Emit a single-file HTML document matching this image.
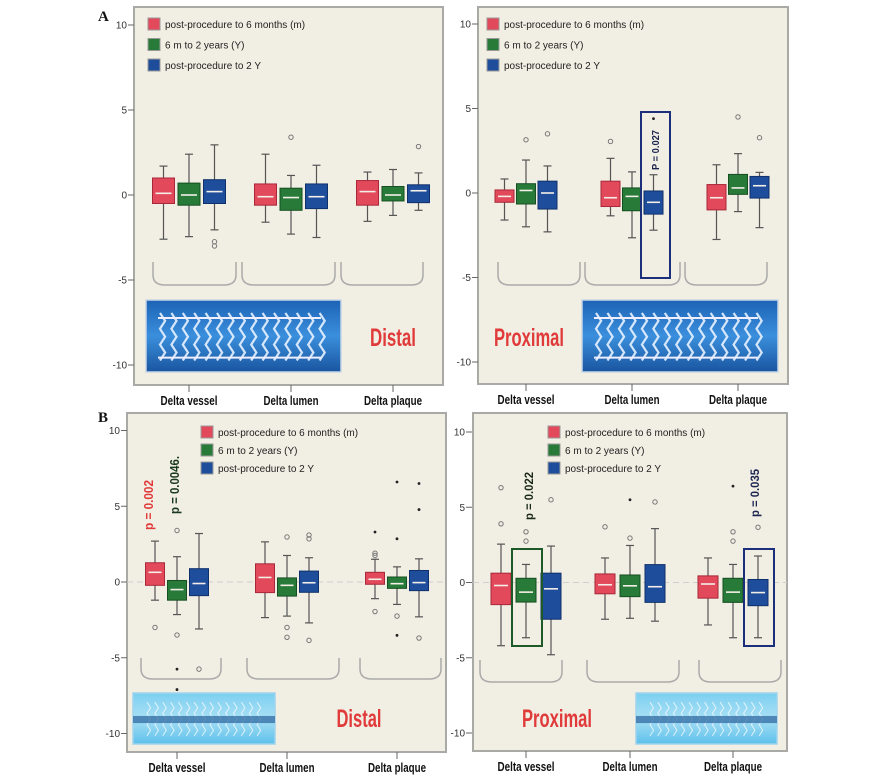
<!DOCTYPE html>
<html><head><meta charset="utf-8">
<style>
html,body{margin:0;padding:0;background:#fff;}
svg{display:block;font-family:"Liberation Sans",sans-serif;}
.cat{font-family:"Liberation Sans Narrow","Liberation Sans",sans-serif;font-weight:bold;font-size:13px;fill:#111;}
.tk{font-size:10px;fill:#333;}
.lg{font-size:10px;fill:#222;}
.big{font-family:"Liberation Sans Narrow","Liberation Sans",sans-serif;font-weight:bold;font-size:25px;fill:#e03a3a;}
</style></head>
<body>
<svg id="fig" width="886" height="778" viewBox="0 0 886 778" xmlns="http://www.w3.org/2000/svg">
<defs>
<linearGradient id="gA" x1="0" y1="0" x2="0" y2="1"><stop offset="0" stop-color="#1d63b5"/><stop offset="0.5" stop-color="#3a8fdc"/><stop offset="1" stop-color="#1a55a0"/></linearGradient>
<linearGradient id="gB" x1="0" y1="0" x2="0" y2="1"><stop offset="0" stop-color="#7ccff0"/><stop offset="0.5" stop-color="#a9e0f5"/><stop offset="1" stop-color="#5cc0ea"/></linearGradient>
</defs>
</svg>
<script>
// ---- data: five-number summaries [min, q1, median, q3, max] per category (vessel, lumen, plaque)
const categories = ["Delta vessel","Delta lumen","Delta plaque"];
const seriesNames = ["post-procedure to 6 months (m)","6 m to 2 years (Y)","post-procedure to 2 Y"];
const yTicks = [10,5,0,-5,-10];
const yTickLabels = ["10","5","0","-5","-10"];

const aDistRed   = [[-2.6,-0.5,0.1,1.0,1.7],[-1.6,-0.6,-0.1,0.65,2.4],[-1.55,-0.6,0.2,0.85,1.35]];
const aDistGreen = [[-2.45,-0.6,0,0.7,2.4],[-2.3,-0.9,-0.15,0.4,1.15],[-1.2,-0.35,0,0.5,1.5]];
const aDistBlue  = [[-2.05,-0.5,0.2,0.9,2.95],[-2.5,-0.8,-0.1,0.65,1.75],[-0.9,-0.45,0.25,0.6,1.3]];
const aDistOut   = [[[],[],[-2.75,-3.0]],[[],[3.4],[]],[[],[],[2.85]]];
const aDistDots  = [[[],[],[]],[[],[],[]],[[],[],[]]];

const aProxRed   = [[-1.6,-0.55,-0.2,0.18,0.83],[-1.35,-0.8,-0.28,0.7,2.05],[-2.75,-1.0,-0.28,0.5,1.67]];
const aProxGreen = [[-2.0,-0.65,0.15,0.55,1.95],[-2.65,-1.05,-0.2,0.3,1.25],[-1.1,-0.08,0.3,1.1,2.33]];
const aProxBlue  = [[-2.3,-0.95,0,0.7,1.6],[-2.2,-1.25,-0.55,0.12,1.08],[-2.05,-0.3,0.43,0.98,1.22]];
const aProxOut   = [[[],[3.15],[3.5]],[[3.05],[],[]],[[],[4.5],[3.27]]];
const aProxDots  = [[[],[],[]],[[],[],[4.4]],[[],[],[]]];

const bDistRed   = [[-1.2,-0.22,0.64,1.27,2.7],[-2.35,-0.7,0.3,1.2,2.65],[-1.1,-0.15,0.18,0.64,1.5]];
const bDistGreen = [[-2.15,-1.2,-0.5,0.1,1.67],[-2.25,-0.93,-0.22,0.27,1.75],[-1.48,-0.42,-0.11,0.33,1.0]];
const bDistBlue  = [[-3.1,-0.9,-0.1,0.88,3.2],[-2.7,-0.68,-0.05,0.72,1.6],[-2.3,-0.57,-0.04,0.76,1.53]];
const bDistOut   = [[[-3.0],[3.4,-3.5],[-5.75]],[[],[2.97,-3.0,-3.65],[3.1,2.85,-3.85]],[[1.9,1.75,-1.95],[-2.25],[-3.7]]];
const bDistDots  = [[[],[-5.75,-7.1],[]],[[],[],[]],[[3.3],[6.6,2.85,-3.52],[6.5,4.78]]];

const bProxRed   = [[-4.2,-1.47,-0.2,0.62,2.55],[-2.44,-0.75,-0.15,0.57,1.63],[-2.82,-1.04,-0.1,0.44,1.63]];
const bProxGreen = [[-3.67,-1.3,-0.64,0.28,1.2],[-2.38,-0.94,-0.22,0.5,2.46],[-3.67,-1.32,-0.64,0.28,1.2]];
const bProxBlue  = [[-4.8,-2.44,-0.42,0.62,2.42],[-2.57,-1.32,-0.28,1.19,3.58],[-3.67,-1.54,-0.67,0.2,1.76]];
const bProxOut   = [[[6.3,3.9],[3.37,2.75],[5.5]],[[3.7],[2.95],[5.35]],[[],[3.37,2.75],[3.67]]];
const bProxDots  = [[[],[],[]],[[],[5.5],[]],[[],[6.4],[]]];

// ---- rendering
const svg = document.getElementById('fig');
const NS = "http://www.w3.org/2000/svg";
const COLORS = ["#e2495b","#277a38","#1e4d9b"];
const EDGE = ["#a8283a","#164f22","#10306b"];
const CAT_W = [57,55,58];
function mk(tag, attrs, parent){
  const e = document.createElementNS(NS, tag);
  for (const k in attrs) e.setAttribute(k, attrs[k]);
  (parent||svg).appendChild(e);
  return e;
}
function stent(g, x, y, w, h, light){
  const r = mk('rect',{x:x,y:y,width:w,height:h,fill:light?'url(#gB)':'url(#gA)',stroke:light?'#9fd3ee':'#c8d6e6','stroke-width':1.5},g);
  
  
  const n = 15, step = (w-24)/n;
  for (let i=0;i<n;i++){
    const cx = x+14+i*step;
    let pts = [];
    for (let k=0;k<=6;k++){ pts.push((cx+(k%2?step*0.45:0))+','+(y+h*0.18+k*h*0.11)); }
    const p = mk('polyline',{points:pts.join(' '),fill:'none',stroke:light?'#f4fbff':'#e8f2ff','stroke-width':light?1:2.2,'stroke-opacity':light?0.8:0.9},g);
    
    
  }
  if (light){
    const b = mk('rect',{x:x,y:y+h*0.45,width:w,height:h*0.14,fill:'#2f6aa3','fill-opacity':0.75},g);
    
    
  } else {
    const l1 = mk('line',{x1:x+12,y1:y+h*0.25,x2:x+w-20,y2:y+h*0.25,stroke:'#eef',"stroke-width":2},g);
    
    
    const l2 = mk('line',{x1:x+12,y1:y+h*0.8,x2:x+w-20,y2:y+h*0.8,stroke:'#eef',"stroke-width":2},g);
    
    
  }
}
function panel(cfg){
  const g = mk('g',{});
  
  
  const Y = v => cfg.zero - v*cfg.ppu;
  const fr = mk('rect',{x:cfg.x0,y:cfg.y0,width:cfg.x1-cfg.x0,height:cfg.y1-cfg.y0,fill:'#f1eee3',stroke:'#a9a9a6','stroke-width':2},g);
  
  
  if (cfg.zeroDash){
    const zl = mk('line',{x1:cfg.x0,x2:cfg.x1,y1:Y(0),y2:Y(0),stroke:'#cfcfcf','stroke-dasharray':'6,4','stroke-width':1},g);
    
    
  }
  yTicks.forEach((t,i)=>{
    const ln = mk('line',{x1:cfg.axX-6,x2:cfg.axX,y1:Y(t),y2:Y(t),stroke:'#666','stroke-width':1},g);
    
    
    const tx = mk('text',{x:cfg.axX-7,y:Y(t)+3.5,'text-anchor':'end',class:'tk'},g);
    tx.textContent = yTickLabels[i];
    
    
  });
  categories.forEach((c,i)=>{
    const ln = mk('line',{x1:cfg.cats[i],x2:cfg.cats[i],y1:cfg.y1,y2:cfg.y1+7,stroke:'#666'},g);
    
    
    const tx = mk('text',{x:cfg.cats[i],y:cfg.y1+20,'text-anchor':'middle',class:'cat',textLength:CAT_W[i],lengthAdjust:'spacingAndGlyphs'},g);
    tx.textContent = c;
    
    
  });
  cfg.brackets.forEach(b=>{
    const [xa,xb] = b, ya = cfg.brY[0], yb = cfg.brY[1];
    const p = mk('path',{d:`M${xa},${ya} L${xa},${yb-10} Q${xa},${yb} ${xa+12},${yb} L${xb-12},${yb} Q${xb},${yb} ${xb},${yb-10} L${xb},${ya}`,fill:'none',stroke:'#aaa','stroke-width':1.5},g);
    
    
  });
  const series = cfg.series;
  categories.forEach((c,ci)=>{
    series.forEach((s,si)=>{
      const cx = cfg.cats[ci] + (si-1)*cfg.off, bw = cfg.bw;
      const [mn,q1,md,q3,mx] = s[ci];
      const w1 = mk('line',{x1:cx,x2:cx,y1:Y(mx),y2:Y(mn),stroke:'#555','stroke-width':1.2},g);
      
      
      [mn,mx].forEach(v=>{
        const cap = mk('line',{x1:cx-4,x2:cx+4,y1:Y(v),y2:Y(v),stroke:'#555','stroke-width':1.2},g);
        
        
      });
      const bx = mk('rect',{x:cx-bw/2,y:Y(q3),width:bw,height:Y(q1)-Y(q3),fill:COLORS[si],stroke:EDGE[si],'stroke-width':1},g);
      
      
      const m = mk('line',{x1:cx-bw/2+3,x2:cx+bw/2-3,y1:Y(md),y2:Y(md),stroke:'#f4eee8','stroke-width':1.6},g);
      
      
      cfg.out[ci][si].forEach(v=>{
        const o = mk('circle',{cx:cx,cy:Y(v),r:2.2,fill:'none',stroke:'#777','stroke-width':1},g);
        
        
      });
      cfg.dots[ci][si].forEach(v=>{
        const o = mk('circle',{cx:cx,cy:Y(v),r:1.4,fill:'#222'},g);
        
        
      });
    });
  });
  seriesNames.forEach((n,i)=>{
    const y = cfg.lg[1] + i*cfg.lgStep;
    const sq = mk('rect',{x:cfg.lg[0],y:y-6,width:12,height:12,fill:COLORS[i],stroke:'#999','stroke-width':1},g);
    
    
    const tx = mk('text',{x:cfg.lg[0]+17,y:y+4,class:'lg'},g);
    tx.textContent = n;
    
    
  });
  stent(g, cfg.img[0], cfg.img[1], cfg.img[2], cfg.img[3], cfg.light);
  const lt = mk('text',{x:cfg.word[0],y:cfg.word[1],'text-anchor':'middle',class:'big',textLength:cfg.wordW,lengthAdjust:'spacingAndGlyphs'},g);
  lt.textContent = cfg.wordText;
  
  
  (cfg.hl||[]).forEach(h=>{
    const r = mk('rect',{x:h.x,y:h.y,width:h.w,height:h.h,fill:'none',stroke:h.c,'stroke-width':2},g);
    
    
  });
  (cfg.pv||[]).forEach(p=>{
    const t = mk('text',{x:0,y:0,transform:`translate(${p.x},${p.y}) rotate(-90)`,'text-anchor':'middle','font-weight':'bold','font-size':p.fs||11,fill:p.c,'font-family':'"Liberation Sans Narrow","Liberation Sans",sans-serif',textLength:p.len,lengthAdjust:'spacingAndGlyphs'},g);
    t.textContent = p.t;
    
    
  });
}

panel({name:'panel-a-distal',x0:134,x1:443,y0:7,y1:385,zero:195,ppu:17,axX:134,cats:[189,291,393],off:25.5,bw:22,
  series:[aDistRed,aDistGreen,aDistBlue],out:aDistOut,dots:aDistDots,
  brackets:[[153,236],[242,335],[341,423]],brY:[262,285],lg:[148,24],lgStep:20.5,
  img:[146,300,195,72],light:false,word:[393,346],wordW:46,wordText:'Distal'});
panel({name:'panel-a-proximal',x0:478,x1:788,y0:7,y1:384,zero:193,ppu:16.9,axX:478,cats:[526,632,738],off:21.5,bw:19,
  series:[aProxRed,aProxGreen,aProxBlue],out:aProxOut,dots:aProxDots,
  brackets:[[498,580],[585,680],[685,767]],brY:[262,285],lg:[487,24],lgStep:20.5,
  img:[582,300,196,72],light:false,word:[529,346],wordW:70,wordText:'Proximal',
  hl:[{x:641,y:112,w:29,h:166,c:'#1b2f7a'}],pv:[{x:659,y:150,t:'P = 0.027',c:'#1b2550',fs:10,len:40}]});
panel({name:'panel-b-distal',x0:127,x1:446,y0:413,y1:752,zero:582,ppu:15.15,axX:127,cats:[177,287,397],off:22,bw:19,zeroDash:true,
  series:[bDistRed,bDistGreen,bDistBlue],out:bDistOut,dots:bDistDots,
  brackets:[[141,221],[247,339],[360,441]],brY:[658,679],lg:[201,432],lgStep:18,
  img:[133,693,142,51],light:true,word:[359,727],wordW:45,wordText:'Distal',
  pv:[{x:153,y:505,t:'p = 0.002',c:'#e03a3a',fs:12.5,len:50},{x:179,y:485,t:'p = 0.0046.',c:'#1a3a1f',fs:12.5,len:58}]});
panel({name:'panel-b-proximal',x0:473,x1:787,y0:413,y1:751,zero:582.5,ppu:15.05,axX:472,cats:[526,630,733],off:25,bw:20,zeroDash:true,
  series:[bProxRed,bProxGreen,bProxBlue],out:bProxOut,dots:bProxDots,
  brackets:[[480,562],[587,679],[699,781]],brY:[660,682],lg:[548,432],lgStep:18,
  img:[636,693,141,51],light:true,word:[557,727],wordW:70,wordText:'Proximal',
  hl:[{x:512,y:549,w:30,h:97,c:'#1e5a28'},{x:744,y:549,w:30,h:97,c:'#1b2f7a'}],
  pv:[{x:533,y:496,t:'p = 0.022',c:'#1a2a1a',fs:12,len:48},{x:759,y:493,t:'p = 0.035',c:'#1b2550',fs:12,len:48}]});

['A','B'].forEach((L,i)=>{
  const t = mk('text',{x:98,y:i?422:21,'font-family':'"Liberation Serif",serif','font-weight':'bold','font-size':15,fill:'#111'});
  t.textContent = L;
  
  
});
</script>
</body></html>
